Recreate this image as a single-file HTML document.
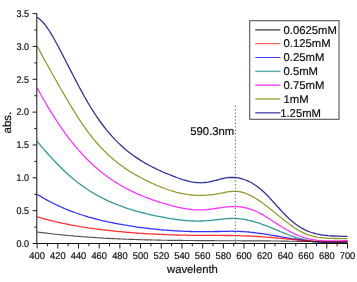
<!DOCTYPE html>
<html><head><meta charset="utf-8"><title>abs vs wavelength</title>
<style>
html,body{margin:0;padding:0;background:#fff;}
svg{display:block;}
text{text-rendering:geometricPrecision;font-family:"Liberation Sans",sans-serif;font-size:9.8px;fill:#111;stroke:#111;stroke-width:0.2px;}
text.big{font-size:11.3px;}
</style></head><body>
<svg width="357" height="282" viewBox="0 0 357 282">
<rect width="357" height="282" fill="#fff"/>
<g fill="none" stroke-linejoin="round">
<path d="M37.1,17.4 L38.6,18.3 L40.1,19.5 L41.6,20.9 L43.1,22.5 L44.6,24.2 L46.1,26.2 L47.6,28.3 L49.1,30.5 L50.6,32.9 L52.1,35.4 L53.6,38.0 L55.1,40.7 L56.6,43.5 L58.1,46.3 L59.6,49.1 L61.1,52.0 L62.6,54.9 L64.1,57.8 L65.6,60.7 L67.1,63.7 L68.6,66.6 L70.1,69.5 L71.6,72.4 L73.1,75.3 L74.6,78.2 L76.1,81.1 L77.6,84.0 L79.1,86.8 L80.6,89.6 L82.1,92.3 L83.6,95.1 L85.1,97.7 L86.6,100.4 L88.1,103.0 L89.6,105.5 L91.1,108.0 L92.6,110.4 L94.1,112.7 L95.6,115.0 L97.1,117.2 L98.6,119.4 L100.1,121.5 L101.6,123.5 L103.1,125.5 L104.6,127.5 L106.1,129.3 L107.6,131.2 L109.1,132.9 L110.6,134.7 L112.1,136.4 L113.6,138.0 L115.1,139.6 L116.6,141.1 L118.1,142.6 L119.6,144.1 L121.1,145.5 L122.6,146.8 L124.1,148.2 L125.6,149.4 L127.1,150.7 L128.6,151.9 L130.1,153.1 L131.6,154.2 L133.1,155.3 L134.6,156.4 L136.1,157.4 L137.6,158.4 L139.1,159.4 L140.6,160.4 L142.1,161.3 L143.6,162.2 L145.1,163.1 L146.6,163.9 L148.1,164.7 L149.6,165.5 L151.1,166.3 L152.6,167.1 L154.1,167.8 L155.6,168.6 L157.1,169.3 L158.6,170.0 L160.1,170.6 L161.6,171.3 L163.1,172.0 L164.6,172.6 L166.1,173.3 L167.6,173.9 L169.1,174.5 L170.6,175.1 L172.1,175.7 L173.6,176.3 L175.1,176.9 L176.6,177.5 L178.1,178.0 L179.6,178.5 L181.1,179.1 L182.6,179.5 L184.1,180.0 L185.6,180.4 L187.1,180.8 L188.6,181.2 L190.1,181.6 L191.6,181.9 L193.1,182.1 L194.6,182.3 L196.1,182.5 L197.6,182.6 L199.1,182.7 L200.6,182.8 L202.1,182.7 L203.6,182.7 L205.1,182.5 L206.6,182.3 L208.1,182.1 L209.6,181.8 L211.1,181.5 L212.6,181.1 L214.1,180.7 L215.6,180.4 L217.1,180.0 L218.6,179.6 L220.1,179.2 L221.6,178.8 L223.1,178.5 L224.6,178.2 L226.1,177.9 L227.6,177.7 L229.1,177.5 L230.6,177.5 L232.1,177.4 L233.6,177.5 L235.1,177.5 L236.6,177.7 L238.1,177.9 L239.6,178.2 L241.1,178.6 L242.6,179.0 L244.1,179.5 L245.6,180.0 L247.1,180.6 L248.6,181.3 L250.1,182.0 L251.6,182.8 L253.1,183.7 L254.6,184.7 L256.1,185.7 L257.6,186.8 L259.1,187.9 L260.6,189.1 L262.1,190.4 L263.6,191.8 L265.1,193.2 L266.6,194.7 L268.1,196.3 L269.6,197.9 L271.1,199.5 L272.6,201.1 L274.1,202.8 L275.6,204.5 L277.1,206.2 L278.6,207.8 L280.1,209.5 L281.6,211.1 L283.1,212.7 L284.6,214.3 L286.1,215.8 L287.6,217.3 L289.1,218.7 L290.6,220.0 L292.1,221.3 L293.6,222.5 L295.1,223.7 L296.6,224.8 L298.1,225.9 L299.6,226.8 L301.1,227.8 L302.6,228.6 L304.1,229.4 L305.6,230.1 L307.1,230.8 L308.6,231.4 L310.1,232.0 L311.6,232.5 L313.1,233.0 L314.6,233.4 L316.1,233.8 L317.6,234.1 L319.1,234.4 L320.6,234.7 L322.1,235.0 L323.6,235.2 L325.1,235.4 L326.6,235.5 L328.1,235.7 L329.6,235.8 L331.1,235.9 L332.6,236.0 L334.1,236.0 L335.6,236.1 L337.1,236.1 L338.6,236.2 L340.1,236.2 L341.6,236.3 L343.1,236.3 L344.6,236.4 L346.1,236.4 L347.5,236.5" stroke="#000080" stroke-width="1.3" stroke-opacity="0.8"/>
<path d="M37.1,46.0 L38.6,48.8 L40.1,51.6 L41.6,54.4 L43.1,57.2 L44.6,59.9 L46.1,62.7 L47.6,65.4 L49.1,68.1 L50.6,70.8 L52.1,73.5 L53.6,76.2 L55.1,78.8 L56.6,81.5 L58.1,84.1 L59.6,86.7 L61.1,89.3 L62.6,91.9 L64.1,94.5 L65.6,97.1 L67.1,99.6 L68.6,102.1 L70.1,104.6 L71.6,107.1 L73.1,109.6 L74.6,112.0 L76.1,114.4 L77.6,116.8 L79.1,119.1 L80.6,121.4 L82.1,123.6 L83.6,125.8 L85.1,127.9 L86.6,130.0 L88.1,132.1 L89.6,134.1 L91.1,136.0 L92.6,137.9 L94.1,139.7 L95.6,141.5 L97.1,143.3 L98.6,145.0 L100.1,146.6 L101.6,148.2 L103.1,149.8 L104.6,151.3 L106.1,152.8 L107.6,154.2 L109.1,155.6 L110.6,157.0 L112.1,158.3 L113.6,159.6 L115.1,160.8 L116.6,162.0 L118.1,163.2 L119.6,164.3 L121.1,165.4 L122.6,166.5 L124.1,167.6 L125.6,168.6 L127.1,169.6 L128.6,170.6 L130.1,171.5 L131.6,172.4 L133.1,173.3 L134.6,174.2 L136.1,175.1 L137.6,175.9 L139.1,176.7 L140.6,177.5 L142.1,178.3 L143.6,179.1 L145.1,179.8 L146.6,180.6 L148.1,181.3 L149.6,182.1 L151.1,182.8 L152.6,183.5 L154.1,184.1 L155.6,184.8 L157.1,185.5 L158.6,186.1 L160.1,186.7 L161.6,187.3 L163.1,187.9 L164.6,188.5 L166.1,189.0 L167.6,189.5 L169.1,190.0 L170.6,190.5 L172.1,191.0 L173.6,191.4 L175.1,191.9 L176.6,192.3 L178.1,192.6 L179.6,193.0 L181.1,193.3 L182.6,193.7 L184.1,193.9 L185.6,194.2 L187.1,194.4 L188.6,194.7 L190.1,194.9 L191.6,195.0 L193.1,195.1 L194.6,195.3 L196.1,195.3 L197.6,195.4 L199.1,195.4 L200.6,195.4 L202.1,195.4 L203.6,195.4 L205.1,195.3 L206.6,195.2 L208.1,195.1 L209.6,194.9 L211.1,194.8 L212.6,194.6 L214.1,194.4 L215.6,194.2 L217.1,193.9 L218.6,193.7 L220.1,193.4 L221.6,193.1 L223.1,192.8 L224.6,192.5 L226.1,192.2 L227.6,191.9 L229.1,191.7 L230.6,191.5 L232.1,191.3 L233.6,191.3 L235.1,191.3 L236.6,191.3 L238.1,191.5 L239.6,191.7 L241.1,192.0 L242.6,192.4 L244.1,192.9 L245.6,193.4 L247.1,194.0 L248.6,194.6 L250.1,195.3 L251.6,196.1 L253.1,196.9 L254.6,197.8 L256.1,198.7 L257.6,199.6 L259.1,200.6 L260.6,201.6 L262.1,202.7 L263.6,203.8 L265.1,204.9 L266.6,206.0 L268.1,207.2 L269.6,208.4 L271.1,209.6 L272.6,210.8 L274.1,212.0 L275.6,213.2 L277.1,214.4 L278.6,215.7 L280.1,216.9 L281.6,218.1 L283.1,219.3 L284.6,220.5 L286.1,221.7 L287.6,222.8 L289.1,224.0 L290.6,225.1 L292.1,226.1 L293.6,227.2 L295.1,228.2 L296.6,229.1 L298.1,230.0 L299.6,230.9 L301.1,231.7 L302.6,232.4 L304.1,233.1 L305.6,233.8 L307.1,234.3 L308.6,234.9 L310.1,235.4 L311.6,235.8 L313.1,236.2 L314.6,236.5 L316.1,236.9 L317.6,237.1 L319.1,237.4 L320.6,237.6 L322.1,237.8 L323.6,237.9 L325.1,238.1 L326.6,238.2 L328.1,238.3 L329.6,238.3 L331.1,238.4 L332.6,238.4 L334.1,238.5 L335.6,238.5 L337.1,238.5 L338.6,238.5 L340.1,238.6 L341.6,238.6 L343.1,238.6 L344.6,238.6 L346.1,238.7 L347.5,238.7" stroke="#808000" stroke-width="1.3" stroke-opacity="0.8"/>
<path d="M37.1,87.8 L38.6,90.6 L40.1,93.3 L41.6,96.0 L43.1,98.6 L44.6,101.2 L46.1,103.8 L47.6,106.3 L49.1,108.8 L50.6,111.3 L52.1,113.7 L53.6,116.1 L55.1,118.4 L56.6,120.8 L58.1,123.0 L59.6,125.2 L61.1,127.4 L62.6,129.6 L64.1,131.7 L65.6,133.8 L67.1,135.8 L68.6,137.8 L70.1,139.8 L71.6,141.7 L73.1,143.5 L74.6,145.4 L76.1,147.2 L77.6,148.9 L79.1,150.7 L80.6,152.3 L82.1,154.0 L83.6,155.6 L85.1,157.2 L86.6,158.7 L88.1,160.2 L89.6,161.7 L91.1,163.1 L92.6,164.5 L94.1,165.9 L95.6,167.2 L97.1,168.5 L98.6,169.8 L100.1,171.0 L101.6,172.3 L103.1,173.4 L104.6,174.6 L106.1,175.7 L107.6,176.8 L109.1,177.9 L110.6,179.0 L112.1,180.0 L113.6,181.0 L115.1,181.9 L116.6,182.9 L118.1,183.8 L119.6,184.7 L121.1,185.6 L122.6,186.5 L124.1,187.3 L125.6,188.1 L127.1,188.9 L128.6,189.7 L130.1,190.4 L131.6,191.2 L133.1,191.9 L134.6,192.6 L136.1,193.3 L137.6,194.0 L139.1,194.6 L140.6,195.2 L142.1,195.9 L143.6,196.5 L145.1,197.1 L146.6,197.6 L148.1,198.2 L149.6,198.7 L151.1,199.3 L152.6,199.8 L154.1,200.3 L155.6,200.8 L157.1,201.3 L158.6,201.8 L160.1,202.3 L161.6,202.8 L163.1,203.2 L164.6,203.7 L166.1,204.1 L167.6,204.5 L169.1,205.0 L170.6,205.4 L172.1,205.8 L173.6,206.2 L175.1,206.5 L176.6,206.9 L178.1,207.3 L179.6,207.6 L181.1,207.9 L182.6,208.2 L184.1,208.5 L185.6,208.7 L187.1,208.9 L188.6,209.2 L190.1,209.3 L191.6,209.5 L193.1,209.6 L194.6,209.8 L196.1,209.8 L197.6,209.9 L199.1,209.9 L200.6,209.9 L202.1,209.9 L203.6,209.8 L205.1,209.7 L206.6,209.6 L208.1,209.4 L209.6,209.3 L211.1,209.1 L212.6,208.9 L214.1,208.7 L215.6,208.5 L217.1,208.2 L218.6,208.0 L220.1,207.8 L221.6,207.6 L223.1,207.4 L224.6,207.2 L226.1,207.1 L227.6,206.9 L229.1,206.8 L230.6,206.7 L232.1,206.6 L233.6,206.6 L235.1,206.6 L236.6,206.6 L238.1,206.7 L239.6,206.8 L241.1,207.0 L242.6,207.2 L244.1,207.5 L245.6,207.8 L247.1,208.2 L248.6,208.6 L250.1,209.0 L251.6,209.5 L253.1,210.1 L254.6,210.7 L256.1,211.3 L257.6,212.0 L259.1,212.8 L260.6,213.6 L262.1,214.4 L263.6,215.3 L265.1,216.2 L266.6,217.1 L268.1,218.0 L269.6,219.0 L271.1,220.0 L272.6,221.0 L274.1,222.0 L275.6,222.9 L277.1,223.9 L278.6,224.9 L280.1,225.8 L281.6,226.8 L283.1,227.7 L284.6,228.6 L286.1,229.5 L287.6,230.3 L289.1,231.1 L290.6,231.9 L292.1,232.7 L293.6,233.4 L295.1,234.1 L296.6,234.8 L298.1,235.4 L299.6,236.0 L301.1,236.6 L302.6,237.1 L304.1,237.5 L305.6,238.0 L307.1,238.4 L308.6,238.8 L310.1,239.1 L311.6,239.4 L313.1,239.7 L314.6,239.9 L316.1,240.1 L317.6,240.3 L319.1,240.5 L320.6,240.6 L322.1,240.7 L323.6,240.8 L325.1,240.9 L326.6,240.9 L328.1,241.0 L329.6,241.0 L331.1,241.0 L332.6,241.0 L334.1,241.0 L335.6,241.0 L337.1,240.9 L338.6,240.9 L340.1,240.8 L341.6,240.8 L343.1,240.7 L344.6,240.7 L346.1,240.6 L347.5,240.6" stroke="#ff00ff" stroke-width="1.3" stroke-opacity="0.8"/>
<path d="M37.1,141.3 L38.6,143.1 L40.1,144.8 L41.6,146.6 L43.1,148.4 L44.6,150.1 L46.1,151.8 L47.6,153.5 L49.1,155.2 L50.6,156.8 L52.1,158.5 L53.6,160.1 L55.1,161.7 L56.6,163.3 L58.1,164.8 L59.6,166.3 L61.1,167.8 L62.6,169.3 L64.1,170.7 L65.6,172.2 L67.1,173.5 L68.6,174.9 L70.1,176.2 L71.6,177.5 L73.1,178.8 L74.6,180.0 L76.1,181.2 L77.6,182.4 L79.1,183.5 L80.6,184.6 L82.1,185.7 L83.6,186.8 L85.1,187.8 L86.6,188.8 L88.1,189.8 L89.6,190.8 L91.1,191.7 L92.6,192.6 L94.1,193.5 L95.6,194.4 L97.1,195.2 L98.6,196.1 L100.1,196.9 L101.6,197.6 L103.1,198.4 L104.6,199.1 L106.1,199.9 L107.6,200.6 L109.1,201.3 L110.6,201.9 L112.1,202.6 L113.6,203.2 L115.1,203.8 L116.6,204.4 L118.1,205.0 L119.6,205.6 L121.1,206.2 L122.6,206.7 L124.1,207.2 L125.6,207.8 L127.1,208.3 L128.6,208.8 L130.1,209.2 L131.6,209.7 L133.1,210.2 L134.6,210.6 L136.1,211.0 L137.6,211.5 L139.1,211.9 L140.6,212.3 L142.1,212.7 L143.6,213.0 L145.1,213.4 L146.6,213.8 L148.1,214.1 L149.6,214.5 L151.1,214.8 L152.6,215.1 L154.1,215.5 L155.6,215.8 L157.1,216.1 L158.6,216.4 L160.1,216.7 L161.6,217.0 L163.1,217.2 L164.6,217.5 L166.1,217.8 L167.6,218.1 L169.1,218.3 L170.6,218.6 L172.1,218.8 L173.6,219.0 L175.1,219.3 L176.6,219.5 L178.1,219.7 L179.6,219.9 L181.1,220.0 L182.6,220.2 L184.1,220.4 L185.6,220.5 L187.1,220.6 L188.6,220.7 L190.1,220.8 L191.6,220.9 L193.1,221.0 L194.6,221.0 L196.1,221.1 L197.6,221.1 L199.1,221.1 L200.6,221.0 L202.1,221.0 L203.6,220.9 L205.1,220.8 L206.6,220.7 L208.1,220.6 L209.6,220.5 L211.1,220.3 L212.6,220.1 L214.1,220.0 L215.6,219.8 L217.1,219.6 L218.6,219.5 L220.1,219.3 L221.6,219.1 L223.1,219.0 L224.6,218.8 L226.1,218.7 L227.6,218.6 L229.1,218.5 L230.6,218.5 L232.1,218.4 L233.6,218.4 L235.1,218.5 L236.6,218.5 L238.1,218.6 L239.6,218.8 L241.1,218.9 L242.6,219.2 L244.1,219.4 L245.6,219.7 L247.1,220.0 L248.6,220.3 L250.1,220.6 L251.6,221.0 L253.1,221.4 L254.6,221.8 L256.1,222.3 L257.6,222.7 L259.1,223.2 L260.6,223.7 L262.1,224.3 L263.6,224.8 L265.1,225.4 L266.6,225.9 L268.1,226.5 L269.6,227.1 L271.1,227.7 L272.6,228.3 L274.1,228.9 L275.6,229.6 L277.1,230.2 L278.6,230.8 L280.1,231.5 L281.6,232.1 L283.1,232.7 L284.6,233.3 L286.1,233.9 L287.6,234.5 L289.1,235.0 L290.6,235.6 L292.1,236.1 L293.6,236.6 L295.1,237.1 L296.6,237.6 L298.1,238.0 L299.6,238.5 L301.1,238.9 L302.6,239.2 L304.1,239.6 L305.6,239.9 L307.1,240.2 L308.6,240.5 L310.1,240.8 L311.6,241.1 L313.1,241.3 L314.6,241.5 L316.1,241.7 L317.6,241.8 L319.1,242.0 L320.6,242.1 L322.1,242.2 L323.6,242.3 L325.1,242.3 L326.6,242.4 L328.1,242.4 L329.6,242.4 L331.1,242.4 L332.6,242.4 L334.1,242.3 L335.6,242.3 L337.1,242.2 L338.6,242.1 L340.1,242.0 L341.6,241.9 L343.1,241.8 L344.6,241.6 L346.1,241.4 L347.5,241.3" stroke="#008080" stroke-width="1.3" stroke-opacity="0.8"/>
<path d="M37.1,194.3 L38.6,195.2 L40.1,196.1 L41.6,197.0 L43.1,197.9 L44.6,198.8 L46.1,199.6 L47.6,200.4 L49.1,201.2 L50.6,202.0 L52.1,202.8 L53.6,203.5 L55.1,204.3 L56.6,205.0 L58.1,205.7 L59.6,206.4 L61.1,207.0 L62.6,207.7 L64.1,208.3 L65.6,209.0 L67.1,209.6 L68.6,210.2 L70.1,210.8 L71.6,211.4 L73.1,211.9 L74.6,212.5 L76.1,213.0 L77.6,213.5 L79.1,214.0 L80.6,214.5 L82.1,215.0 L83.6,215.5 L85.1,216.0 L86.6,216.4 L88.1,216.9 L89.6,217.3 L91.1,217.7 L92.6,218.1 L94.1,218.5 L95.6,218.9 L97.1,219.3 L98.6,219.7 L100.1,220.1 L101.6,220.4 L103.1,220.8 L104.6,221.1 L106.1,221.4 L107.6,221.8 L109.1,222.1 L110.6,222.4 L112.1,222.7 L113.6,223.0 L115.1,223.3 L116.6,223.6 L118.1,223.9 L119.6,224.1 L121.1,224.4 L122.6,224.7 L124.1,224.9 L125.6,225.2 L127.1,225.4 L128.6,225.7 L130.1,225.9 L131.6,226.2 L133.1,226.4 L134.6,226.6 L136.1,226.8 L137.6,227.1 L139.1,227.3 L140.6,227.5 L142.1,227.7 L143.6,227.9 L145.1,228.1 L146.6,228.2 L148.1,228.4 L149.6,228.6 L151.1,228.8 L152.6,228.9 L154.1,229.1 L155.6,229.2 L157.1,229.4 L158.6,229.5 L160.1,229.7 L161.6,229.8 L163.1,230.0 L164.6,230.1 L166.1,230.2 L167.6,230.3 L169.1,230.4 L170.6,230.5 L172.1,230.6 L173.6,230.7 L175.1,230.8 L176.6,230.9 L178.1,231.0 L179.6,231.1 L181.1,231.1 L182.6,231.2 L184.1,231.3 L185.6,231.3 L187.1,231.4 L188.6,231.4 L190.1,231.5 L191.6,231.5 L193.1,231.6 L194.6,231.6 L196.1,231.6 L197.6,231.6 L199.1,231.7 L200.6,231.7 L202.1,231.7 L203.6,231.7 L205.1,231.7 L206.6,231.7 L208.1,231.7 L209.6,231.7 L211.1,231.6 L212.6,231.6 L214.1,231.6 L215.6,231.5 L217.1,231.5 L218.6,231.5 L220.1,231.4 L221.6,231.4 L223.1,231.4 L224.6,231.3 L226.1,231.3 L227.6,231.3 L229.1,231.3 L230.6,231.2 L232.1,231.2 L233.6,231.3 L235.1,231.3 L236.6,231.3 L238.1,231.4 L239.6,231.4 L241.1,231.5 L242.6,231.6 L244.1,231.7 L245.6,231.8 L247.1,231.9 L248.6,232.0 L250.1,232.2 L251.6,232.3 L253.1,232.5 L254.6,232.7 L256.1,232.9 L257.6,233.1 L259.1,233.3 L260.6,233.5 L262.1,233.7 L263.6,233.9 L265.1,234.1 L266.6,234.3 L268.1,234.6 L269.6,234.8 L271.1,235.1 L272.6,235.3 L274.1,235.5 L275.6,235.8 L277.1,236.0 L278.6,236.3 L280.1,236.6 L281.6,236.8 L283.1,237.1 L284.6,237.3 L286.1,237.6 L287.6,237.8 L289.1,238.1 L290.6,238.3 L292.1,238.6 L293.6,238.8 L295.1,239.0 L296.6,239.3 L298.1,239.5 L299.6,239.7 L301.1,240.0 L302.6,240.2 L304.1,240.4 L305.6,240.6 L307.1,240.8 L308.6,241.0 L310.1,241.1 L311.6,241.3 L313.1,241.5 L314.6,241.6 L316.1,241.8 L317.6,241.9 L319.1,242.0 L320.6,242.1 L322.1,242.2 L323.6,242.3 L325.1,242.4 L326.6,242.4 L328.1,242.5 L329.6,242.5 L331.1,242.5 L332.6,242.5 L334.1,242.5 L335.6,242.5 L337.1,242.4 L338.6,242.4 L340.1,242.3 L341.6,242.2 L343.1,242.1 L344.6,242.0 L346.1,241.8 L347.5,241.7" stroke="#0000ff" stroke-width="1.3" stroke-opacity="0.8"/>
<path d="M37.1,216.8 L38.6,217.2 L40.1,217.6 L41.6,218.1 L43.1,218.5 L44.6,218.9 L46.1,219.3 L47.6,219.7 L49.1,220.1 L50.6,220.5 L52.1,220.9 L53.6,221.2 L55.1,221.6 L56.6,221.9 L58.1,222.3 L59.6,222.6 L61.1,222.9 L62.6,223.3 L64.1,223.6 L65.6,223.9 L67.1,224.2 L68.6,224.5 L70.1,224.8 L71.6,225.1 L73.1,225.4 L74.6,225.6 L76.1,225.9 L77.6,226.2 L79.1,226.4 L80.6,226.7 L82.1,226.9 L83.6,227.2 L85.1,227.4 L86.6,227.6 L88.1,227.9 L89.6,228.1 L91.1,228.3 L92.6,228.5 L94.1,228.7 L95.6,228.9 L97.1,229.1 L98.6,229.3 L100.1,229.5 L101.6,229.7 L103.1,229.9 L104.6,230.0 L106.1,230.2 L107.6,230.4 L109.1,230.5 L110.6,230.7 L112.1,230.9 L113.6,231.0 L115.1,231.2 L116.6,231.3 L118.1,231.5 L119.6,231.6 L121.1,231.7 L122.6,231.9 L124.1,232.0 L125.6,232.1 L127.1,232.3 L128.6,232.4 L130.1,232.5 L131.6,232.6 L133.1,232.7 L134.6,232.9 L136.1,233.0 L137.6,233.1 L139.1,233.2 L140.6,233.3 L142.1,233.4 L143.6,233.5 L145.1,233.6 L146.6,233.7 L148.1,233.8 L149.6,233.8 L151.1,233.9 L152.6,234.0 L154.1,234.1 L155.6,234.2 L157.1,234.2 L158.6,234.3 L160.1,234.4 L161.6,234.4 L163.1,234.5 L164.6,234.6 L166.1,234.6 L167.6,234.7 L169.1,234.7 L170.6,234.8 L172.1,234.9 L173.6,234.9 L175.1,234.9 L176.6,235.0 L178.1,235.0 L179.6,235.1 L181.1,235.1 L182.6,235.1 L184.1,235.2 L185.6,235.2 L187.1,235.2 L188.6,235.3 L190.1,235.3 L191.6,235.3 L193.1,235.3 L194.6,235.3 L196.1,235.4 L197.6,235.4 L199.1,235.4 L200.6,235.4 L202.1,235.4 L203.6,235.4 L205.1,235.4 L206.6,235.4 L208.1,235.4 L209.6,235.4 L211.1,235.4 L212.6,235.4 L214.1,235.4 L215.6,235.4 L217.1,235.4 L218.6,235.4 L220.1,235.4 L221.6,235.4 L223.1,235.4 L224.6,235.5 L226.1,235.5 L227.6,235.5 L229.1,235.5 L230.6,235.5 L232.1,235.5 L233.6,235.6 L235.1,235.6 L236.6,235.6 L238.1,235.7 L239.6,235.7 L241.1,235.8 L242.6,235.8 L244.1,235.9 L245.6,235.9 L247.1,236.0 L248.6,236.0 L250.1,236.1 L251.6,236.2 L253.1,236.3 L254.6,236.4 L256.1,236.4 L257.6,236.5 L259.1,236.6 L260.6,236.7 L262.1,236.8 L263.6,236.9 L265.1,237.1 L266.6,237.2 L268.1,237.3 L269.6,237.4 L271.1,237.5 L272.6,237.6 L274.1,237.8 L275.6,237.9 L277.1,238.0 L278.6,238.2 L280.1,238.3 L281.6,238.4 L283.1,238.6 L284.6,238.7 L286.1,238.9 L287.6,239.0 L289.1,239.1 L290.6,239.3 L292.1,239.4 L293.6,239.6 L295.1,239.7 L296.6,239.8 L298.1,240.0 L299.6,240.1 L301.1,240.2 L302.6,240.4 L304.1,240.5 L305.6,240.6 L307.1,240.7 L308.6,240.9 L310.1,241.0 L311.6,241.1 L313.1,241.2 L314.6,241.3 L316.1,241.4 L317.6,241.4 L319.1,241.5 L320.6,241.6 L322.1,241.7 L323.6,241.7 L325.1,241.8 L326.6,241.8 L328.1,241.9 L329.6,241.9 L331.1,241.9 L332.6,241.9 L334.1,241.9 L335.6,241.9 L337.1,241.9 L338.6,241.8 L340.1,241.8 L341.6,241.7 L343.1,241.7 L344.6,241.6 L346.1,241.5 L347.5,241.4" stroke="#ff0000" stroke-width="1.3" stroke-opacity="0.8"/>
<path d="M37.1,232.0 L38.6,232.2 L40.1,232.4 L41.6,232.6 L43.1,232.8 L44.6,232.9 L46.1,233.1 L47.6,233.3 L49.1,233.5 L50.6,233.7 L52.1,233.8 L53.6,234.0 L55.1,234.2 L56.6,234.3 L58.1,234.5 L59.6,234.6 L61.1,234.8 L62.6,235.0 L64.1,235.1 L65.6,235.2 L67.1,235.4 L68.6,235.5 L70.1,235.7 L71.6,235.8 L73.1,235.9 L74.6,236.1 L76.1,236.2 L77.6,236.3 L79.1,236.4 L80.6,236.6 L82.1,236.7 L83.6,236.8 L85.1,236.9 L86.6,237.0 L88.1,237.1 L89.6,237.2 L91.1,237.3 L92.6,237.4 L94.1,237.5 L95.6,237.6 L97.1,237.7 L98.6,237.8 L100.1,237.9 L101.6,238.0 L103.1,238.1 L104.6,238.2 L106.1,238.3 L107.6,238.3 L109.1,238.4 L110.6,238.5 L112.1,238.6 L113.6,238.6 L115.1,238.7 L116.6,238.8 L118.1,238.9 L119.6,238.9 L121.1,239.0 L122.6,239.0 L124.1,239.1 L125.6,239.2 L127.1,239.2 L128.6,239.3 L130.1,239.3 L131.6,239.4 L133.1,239.4 L134.6,239.5 L136.1,239.5 L137.6,239.6 L139.1,239.6 L140.6,239.7 L142.1,239.7 L143.6,239.8 L145.1,239.8 L146.6,239.8 L148.1,239.9 L149.6,239.9 L151.1,239.9 L152.6,240.0 L154.1,240.0 L155.6,240.0 L157.1,240.1 L158.6,240.1 L160.1,240.1 L161.6,240.2 L163.1,240.2 L164.6,240.2 L166.1,240.2 L167.6,240.3 L169.1,240.3 L170.6,240.3 L172.1,240.3 L173.6,240.3 L175.1,240.4 L176.6,240.4 L178.1,240.4 L179.6,240.4 L181.1,240.4 L182.6,240.4 L184.1,240.5 L185.6,240.5 L187.1,240.5 L188.6,240.5 L190.1,240.5 L191.6,240.5 L193.1,240.5 L194.6,240.5 L196.1,240.6 L197.6,240.6 L199.1,240.6 L200.6,240.6 L202.1,240.6 L203.6,240.6 L205.1,240.6 L206.6,240.6 L208.1,240.6 L209.6,240.6 L211.1,240.6 L212.6,240.6 L214.1,240.6 L215.6,240.7 L217.1,240.7 L218.6,240.7 L220.1,240.7 L221.6,240.7 L223.1,240.7 L224.6,240.7 L226.1,240.7 L227.6,240.7 L229.1,240.7 L230.6,240.7 L232.1,240.7 L233.6,240.7 L235.1,240.7 L236.6,240.7 L238.1,240.7 L239.6,240.7 L241.1,240.8 L242.6,240.8 L244.1,240.8 L245.6,240.8 L247.1,240.8 L248.6,240.8 L250.1,240.8 L251.6,240.8 L253.1,240.8 L254.6,240.8 L256.1,240.8 L257.6,240.8 L259.1,240.9 L260.6,240.9 L262.1,240.9 L263.6,240.9 L265.1,240.9 L266.6,240.9 L268.1,240.9 L269.6,240.9 L271.1,241.0 L272.6,241.0 L274.1,241.0 L275.6,241.0 L277.1,241.0 L278.6,241.0 L280.1,241.0 L281.6,241.1 L283.1,241.1 L284.6,241.1 L286.1,241.1 L287.6,241.1 L289.1,241.2 L290.6,241.2 L292.1,241.2 L293.6,241.2 L295.1,241.2 L296.6,241.3 L298.1,241.3 L299.6,241.3 L301.1,241.3 L302.6,241.4 L304.1,241.4 L305.6,241.4 L307.1,241.4 L308.6,241.5 L310.1,241.5 L311.6,241.5 L313.1,241.6 L314.6,241.6 L316.1,241.6 L317.6,241.6 L319.1,241.7 L320.6,241.7 L322.1,241.7 L323.6,241.8 L325.1,241.8 L326.6,241.8 L328.1,241.9 L329.6,241.9 L331.1,241.9 L332.6,242.0 L334.1,242.0 L335.6,242.0 L337.1,242.1 L338.6,242.1 L340.1,242.1 L341.6,242.2 L343.1,242.2 L344.6,242.2 L346.1,242.3 L347.5,242.3" stroke="#222222" stroke-width="1.15" stroke-opacity="0.8"/>
</g>
<line x1="235.4" x2="235.4" y1="105.8" y2="243" stroke="#666" stroke-width="1.1" stroke-dasharray="1.2,2.2"/>
<g fill="none" stroke="#111" stroke-width="1">
<path d="M36.8,13.12 V243.5 H348.0" />
<path d="M37.10,243.5 v5 M47.45,243.5 v2.8 M57.79,243.5 v5 M68.14,243.5 v2.8 M78.49,243.5 v5 M88.83,243.5 v2.8 M99.18,243.5 v5 M109.53,243.5 v2.8 M119.87,243.5 v5 M130.22,243.5 v2.8 M140.57,243.5 v5 M150.91,243.5 v2.8 M161.26,243.5 v5 M171.61,243.5 v2.8 M181.95,243.5 v5 M192.30,243.5 v2.8 M202.65,243.5 v5 M212.99,243.5 v2.8 M223.34,243.5 v5 M233.69,243.5 v2.8 M244.03,243.5 v5 M254.38,243.5 v2.8 M264.73,243.5 v5 M275.07,243.5 v2.8 M285.42,243.5 v5 M295.77,243.5 v2.8 M306.11,243.5 v5 M316.46,243.5 v2.8 M326.81,243.5 v5 M337.15,243.5 v2.8 M347.50,243.5 v5 M36.8,243.50 h-4.2 M36.8,227.08 h-2.5 M36.8,210.66 h-4.2 M36.8,194.24 h-2.5 M36.8,177.82 h-4.2 M36.8,161.40 h-2.5 M36.8,144.98 h-4.2 M36.8,128.56 h-2.5 M36.8,112.14 h-4.2 M36.8,95.72 h-2.5 M36.8,79.30 h-4.2 M36.8,62.88 h-2.5 M36.8,46.46 h-4.2 M36.8,30.04 h-2.5 M36.8,13.62 h-4.2" stroke-width="0.95"/>
</g>
<g>
<text transform="translate(37.1,259.0) scale(0.95,1)" text-anchor="middle">400</text>
<text transform="translate(57.8,259.0) scale(0.95,1)" text-anchor="middle">420</text>
<text transform="translate(78.5,259.0) scale(0.95,1)" text-anchor="middle">440</text>
<text transform="translate(99.2,259.0) scale(0.95,1)" text-anchor="middle">460</text>
<text transform="translate(119.9,259.0) scale(0.95,1)" text-anchor="middle">480</text>
<text transform="translate(140.6,259.0) scale(0.95,1)" text-anchor="middle">500</text>
<text transform="translate(161.3,259.0) scale(0.95,1)" text-anchor="middle">520</text>
<text transform="translate(182.0,259.0) scale(0.95,1)" text-anchor="middle">540</text>
<text transform="translate(202.6,259.0) scale(0.95,1)" text-anchor="middle">560</text>
<text transform="translate(223.3,259.0) scale(0.95,1)" text-anchor="middle">580</text>
<text transform="translate(244.0,259.0) scale(0.95,1)" text-anchor="middle">600</text>
<text transform="translate(264.7,259.0) scale(0.95,1)" text-anchor="middle">620</text>
<text transform="translate(285.4,259.0) scale(0.95,1)" text-anchor="middle">640</text>
<text transform="translate(306.1,259.0) scale(0.95,1)" text-anchor="middle">660</text>
<text transform="translate(326.8,259.0) scale(0.95,1)" text-anchor="middle">680</text>
<text transform="translate(347.5,259.0) scale(0.95,1)" text-anchor="middle">700</text>
<text transform="translate(29.0,246.75) scale(0.92,1)" text-anchor="end">0.0</text>
<text transform="translate(29.0,213.91) scale(0.92,1)" text-anchor="end">0.5</text>
<text transform="translate(29.0,181.07) scale(0.92,1)" text-anchor="end">1.0</text>
<text transform="translate(29.0,148.23) scale(0.92,1)" text-anchor="end">1.5</text>
<text transform="translate(29.0,115.39) scale(0.92,1)" text-anchor="end">2.0</text>
<text transform="translate(29.0,82.55) scale(0.92,1)" text-anchor="end">2.5</text>
<text transform="translate(29.0,49.71) scale(0.92,1)" text-anchor="end">3.0</text>
<text transform="translate(29.0,16.87) scale(0.92,1)" text-anchor="end">3.5</text>
</g>
<rect x="249.7" y="20.7" width="89.3" height="98.6" fill="#fff" stroke="#555" stroke-width="1.1"/>
<line x1="255.3" x2="280.4" y1="29.85" y2="29.85" stroke="#222222" stroke-width="1.4" stroke-opacity="0.8"/>
<text x="283.5" y="33.5" class="big">0.0625mM</text>
<line x1="255.3" x2="280.4" y1="43.68" y2="43.68" stroke="#ff0000" stroke-width="0.9" stroke-opacity="0.85"/>
<text x="283.5" y="47.4" class="big">0.125mM</text>
<line x1="255.3" x2="280.4" y1="57.51" y2="57.51" stroke="#0000ff" stroke-width="0.9" stroke-opacity="0.85"/>
<text x="283.5" y="61.2" class="big">0.25mM</text>
<line x1="255.3" x2="280.4" y1="71.34" y2="71.34" stroke="#008080" stroke-width="1.5" stroke-opacity="0.65"/>
<text x="283.5" y="75.1" class="big">0.5mM</text>
<line x1="255.3" x2="280.4" y1="85.17" y2="85.17" stroke="#ff00ff" stroke-width="1.5" stroke-opacity="0.7"/>
<text x="283.5" y="89.0" class="big">0.75mM</text>
<line x1="255.3" x2="280.4" y1="99.00" y2="99.00" stroke="#808000" stroke-width="1.5" stroke-opacity="0.7"/>
<text x="283.5" y="102.8" class="big">1mM</text>
<line x1="255.3" x2="280.4" y1="112.83" y2="112.83" stroke="#000080" stroke-width="1.5" stroke-opacity="0.65"/>
<text x="280.2" y="116.7" class="big">1.25mM</text>
<text class="big" x="190.3" y="135">590.3nm</text>
<text class="big" x="167" y="272.6">wavelenth</text>
<text class="big" style="font-size:11.5px" transform="translate(11,133.5) rotate(-90)">abs.</text>
</svg>
</body></html>
